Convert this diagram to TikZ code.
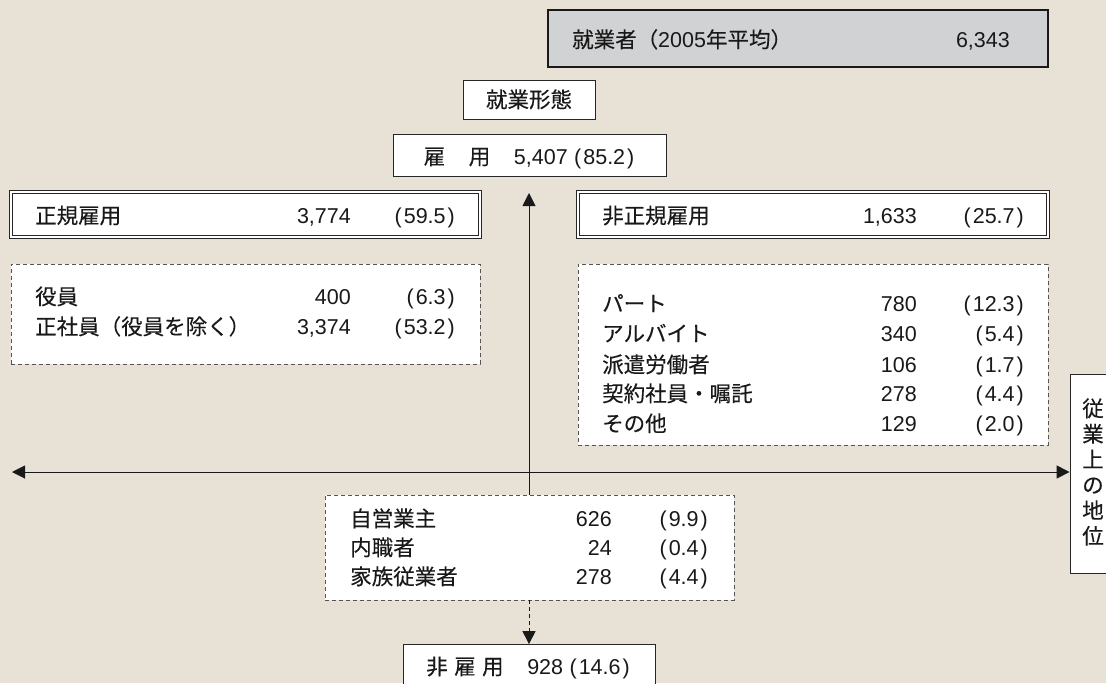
\documentclass[tikz,border=0pt]{standalone}
\usepackage{fontspec}
\setmainfont{Liberation Sans}
\newfontfamily\jfont[FakeBold=0.2]{Noto Sans CJK JP}
\newcommand{\J}[1]{{\jfont #1}}
\newcommand{\Pn}[1]{(\kern2pt#1\kern2pt)}
\usetikzlibrary{arrows.meta}
\definecolor{bg}{RGB}{232,226,214}
\definecolor{topgray}{RGB}{209,210,212}
\definecolor{dashgray}{RGB}{85,85,85}
\begin{document}
\begin{tikzpicture}[x=1pt,y=-1pt,
  txt/.style={font=\fontsize{21.5}{24}\selectfont, inner sep=0pt, text height=15pt, text depth=0pt, text=black!90},
  box/.style={draw=black!85, line width=0.8pt, fill=white, inner sep=0pt},
  topbox/.style={draw=black!90, line width=1.3pt, fill=topgray, inner sep=0pt},
  dbox/.style={draw=black!85, line width=0.7pt, double=white, double distance=2pt, fill=white, inner sep=0pt},
  dashbox/.style={draw=dashgray, line width=0.8pt, dash pattern=on 4pt off 3pt, fill=white, inner sep=0pt},
  arr/.style={line width=1pt, draw=black!90, -{Triangle[length=13pt,width=13pt]}},
  darr/.style={arr, {Triangle[length=13pt,width=13pt]}-{Triangle[length=13pt,width=13pt]}},
  dasharr/.style={arr, dash pattern=on 4pt off 3pt}
]
\useasboundingbox (0,0) rectangle (1106,683);
\clip (0,0) rectangle (1106,683);
\fill[bg] (0,0) rectangle (1106,683);

% boxes
\node[topbox, minimum width=500pt, minimum height=57pt] (top) at (798,38.5) {};
\node[box, minimum width=132pt, minimum height=39pt] (keitai) at (529,99.5) {};
\node[box, minimum width=273pt, minimum height=42pt] (koyo) at (529.5,155) {};
\node[dbox, minimum width=469pt, minimum height=45pt] (seiki) at (245.5,214.5) {};
\node[dashbox, minimum width=469pt, minimum height=100pt] (seikid) at (245.5,314) {};
\node[dbox, minimum width=470pt, minimum height=45pt] (hiseiki) at (813,214.5) {};
\node[dashbox, minimum width=470pt, minimum height=181pt] (hiseikid) at (813,354.5) {};
\node[dashbox, minimum width=409pt, minimum height=105pt] (self) at (529.5,547.5) {};
\node[box, minimum width=252pt, minimum height=55pt] (hikoyo) at (529,672) {};
\node[box, minimum width=50pt, minimum height=199pt] (side) at (1095,473.5) {};

% top texts
\node[txt, anchor=west] (t1) at (572,40) {\J{就業者（}2005\J{年平均）}};
\node[txt, anchor=east] (t2) at (1010,40) {6,343};
\node[txt] (t3) at (529,100) {\J{就業形態}};
\node[txt] (t4) at (529,157) {\J{雇}\hspace{1.1em}\J{用}\hspace{1.1em}5,407\hspace{0.3em}\Pn{85.2}};

% regular
\node[txt, anchor=west] (s0) at (35,216) {\J{正規雇用}};
\node[txt, anchor=east] (s0n) at (351,216) {3,774};
\node[txt, anchor=east] (s0p) at (455,216) {\Pn{59.5}};
\node[txt, anchor=west] (s1) at (35,297) {\J{役員}};
\node[txt, anchor=east] (s1n) at (351,297) {400};
\node[txt, anchor=east] (s1p) at (455,297) {\Pn{6.3}};
\node[txt, anchor=west] (s2) at (35,327) {\J{正社員（役員を除く）}};
\node[txt, anchor=east] (s2n) at (351,327) {3,374};
\node[txt, anchor=east] (s2p) at (455,327) {\Pn{53.2}};

% non-regular
\node[txt, anchor=west] (h0) at (602,216) {\J{非正規雇用}};
\node[txt, anchor=east] (h0n) at (917,216) {1,633};
\node[txt, anchor=east] (h0p) at (1024,216) {\Pn{25.7}};
\node[txt, anchor=west] (h1) at (602,304) {\J{パート}};
\node[txt, anchor=east] (h1n) at (917,304) {780};
\node[txt, anchor=east] (h1p) at (1024,304) {\Pn{12.3}};
\node[txt, anchor=west] (h2) at (602,334) {\J{アルバイト}};
\node[txt, anchor=east] (h2n) at (917,334) {340};
\node[txt, anchor=east] (h2p) at (1024,334) {\Pn{5.4}};
\node[txt, anchor=west] (h3) at (602,365) {\J{派遣労働者}};
\node[txt, anchor=east] (h3n) at (917,365) {106};
\node[txt, anchor=east] (h3p) at (1024,365) {\Pn{1.7}};
\node[txt, anchor=west] (h4) at (602,394) {\J{契約社員・嘱託}};
\node[txt, anchor=east] (h4n) at (917,394) {278};
\node[txt, anchor=east] (h4p) at (1024,394) {\Pn{4.4}};
\node[txt, anchor=west] (h5) at (602,424) {\J{その他}};
\node[txt, anchor=east] (h5n) at (917,424) {129};
\node[txt, anchor=east] (h5p) at (1024,424) {\Pn{2.0}};

% self-employed
\node[txt, anchor=west] (e1) at (350,519) {\J{自営業主}};
\node[txt, anchor=east] (e1n) at (612,519) {626};
\node[txt, anchor=east] (e1p) at (708,519) {\Pn{9.9}};
\node[txt, anchor=west] (e2) at (350,548) {\J{内職者}};
\node[txt, anchor=east] (e2n) at (612,548) {24};
\node[txt, anchor=east] (e2p) at (708,548) {\Pn{0.4}};
\node[txt, anchor=west] (e3) at (350,577) {\J{家族従業者}};
\node[txt, anchor=east] (e3n) at (612,577) {278};
\node[txt, anchor=east] (e3p) at (708,577) {\Pn{4.4}};

\node[txt] (nk) at (528,667) {\J{非}\hspace{0.3em}\J{雇}\hspace{0.3em}\J{用}\hspace{1.1em}928\hspace{0.3em}\Pn{14.6}};

% side label
\node[txt, align=center, text height=, text depth=, font=\fontsize{21.5}{25.5}\selectfont\jfont] (sidet) at (1093,472) {従\\業\\上\\の\\地\\位};

% connectors
\coordinate (L) at (12,472);
\coordinate (vt) at (529,193);
\draw[darr] (L) -- (side.west |- L);
\draw[arr] (self.north -| vt) -- (vt);
\draw[dasharr] (self.south -| hikoyo.north) -- (hikoyo.north);
\end{tikzpicture}
\end{document}
